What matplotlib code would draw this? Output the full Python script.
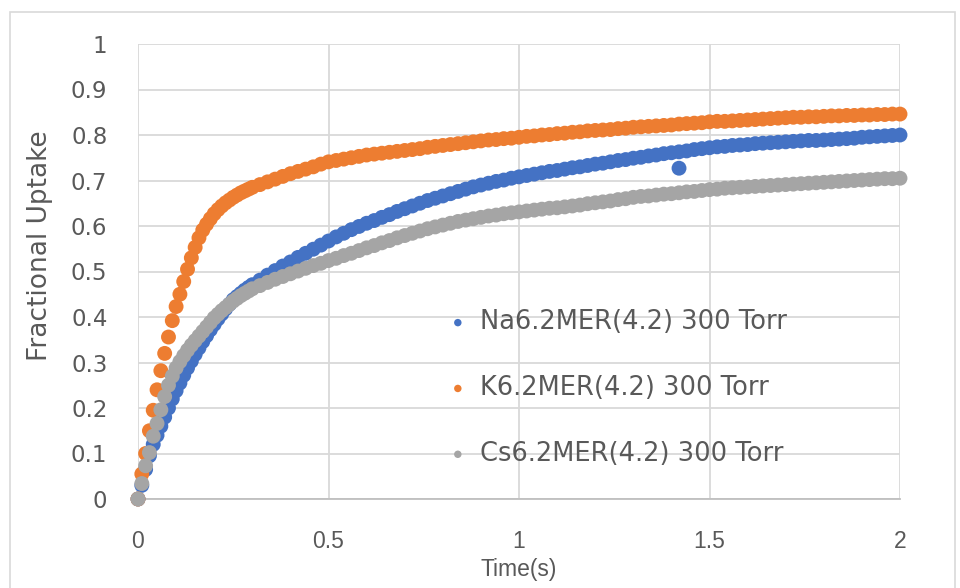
import matplotlib
matplotlib.use("Agg")
import matplotlib.pyplot as plt
from matplotlib.patches import Rectangle

# Sample times (s), shared by the three series
time_s = [0.00, 0.01, 0.02, 0.03, 0.04, 0.05, 0.06, 0.07, 0.08, 0.09,
          0.10, 0.11, 0.12, 0.13, 0.14, 0.15, 0.16, 0.17, 0.18, 0.19,
          0.20, 0.21, 0.22, 0.23, 0.24, 0.25, 0.26, 0.27, 0.28, 0.29, 0.30,
          0.32, 0.34, 0.36, 0.38, 0.40, 0.42, 0.44, 0.46, 0.48, 0.50,
          0.52, 0.54, 0.56, 0.58, 0.60, 0.62, 0.64, 0.66, 0.68, 0.70,
          0.72, 0.74, 0.76, 0.78, 0.80, 0.82, 0.84, 0.86, 0.88, 0.90,
          0.92, 0.94, 0.96, 0.98, 1.00, 1.02, 1.04, 1.06, 1.08, 1.10,
          1.12, 1.14, 1.16, 1.18, 1.20, 1.22, 1.24, 1.26, 1.28, 1.30,
          1.32, 1.34, 1.36, 1.38, 1.40, 1.42, 1.44, 1.46, 1.48, 1.50,
          1.52, 1.54, 1.56, 1.58, 1.60, 1.62, 1.64, 1.66, 1.68, 1.70,
          1.72, 1.74, 1.76, 1.78, 1.80, 1.82, 1.84, 1.86, 1.88, 1.90,
          1.92, 1.94, 1.96, 1.98, 2.00]

na_uptake = [0.000, 0.030, 0.065, 0.095, 0.120, 0.140, 0.160, 0.180, 0.200, 0.220,
             0.238, 0.255, 0.272, 0.288, 0.303, 0.318, 0.332, 0.346, 0.359, 0.372,
             0.384, 0.396, 0.407, 0.418, 0.428, 0.438, 0.445, 0.452, 0.459, 0.465, 0.471,
             0.481, 0.492, 0.502, 0.512, 0.521, 0.531, 0.540, 0.549, 0.558, 0.567,
             0.576, 0.584, 0.592, 0.599, 0.606, 0.612, 0.619, 0.625, 0.632, 0.638,
             0.644, 0.650, 0.656, 0.661, 0.666, 0.671, 0.676, 0.681, 0.686, 0.690,
             0.694, 0.698, 0.701, 0.705, 0.708, 0.711, 0.714, 0.717, 0.720, 0.722,
             0.725, 0.728, 0.730, 0.733, 0.736, 0.738, 0.741, 0.744, 0.746, 0.749,
             0.751, 0.754, 0.756, 0.759, 0.761, 0.763, 0.765, 0.768, 0.770, 0.772,
             0.774, 0.775, 0.777, 0.778, 0.779, 0.781, 0.782, 0.783, 0.784, 0.785,
             0.786, 0.787, 0.788, 0.788, 0.789, 0.790, 0.791, 0.792, 0.793, 0.795,
             0.796, 0.797, 0.798, 0.799, 0.800]
# single stray Na point
na_stray_time = [1.42]
na_stray_uptake = [0.727]

k_uptake = [0.000, 0.055, 0.100, 0.150, 0.195, 0.240, 0.282, 0.320, 0.356, 0.392,
            0.423, 0.450, 0.478, 0.505, 0.530, 0.553, 0.574, 0.591, 0.604, 0.616,
            0.627, 0.636, 0.644, 0.651, 0.657, 0.663, 0.668, 0.673, 0.677, 0.681, 0.685,
            0.691, 0.697, 0.703, 0.709, 0.715, 0.720, 0.725, 0.730, 0.736, 0.741,
            0.744, 0.747, 0.750, 0.753, 0.756, 0.758, 0.760, 0.762, 0.764, 0.766,
            0.768, 0.770, 0.773, 0.775, 0.777, 0.779, 0.781, 0.783, 0.785, 0.787,
            0.789, 0.790, 0.792, 0.793, 0.795, 0.797, 0.798, 0.800, 0.801, 0.803,
            0.804, 0.806, 0.807, 0.809, 0.810, 0.811, 0.812, 0.814, 0.815, 0.817,
            0.818, 0.819, 0.820, 0.821, 0.822, 0.824, 0.825, 0.826, 0.827, 0.829,
            0.830, 0.830, 0.831, 0.832, 0.833, 0.834, 0.835, 0.836, 0.837, 0.838,
            0.839, 0.839, 0.840, 0.840, 0.841, 0.842, 0.842, 0.843, 0.843, 0.844,
            0.844, 0.845, 0.845, 0.846, 0.846]

cs_uptake = [0.000, 0.034, 0.073, 0.102, 0.138, 0.166, 0.196, 0.225, 0.250, 0.270,
             0.288, 0.302, 0.315, 0.327, 0.338, 0.348, 0.358, 0.368, 0.378, 0.388,
             0.398, 0.406, 0.414, 0.421, 0.428, 0.435, 0.441, 0.447, 0.452, 0.457, 0.462,
             0.469, 0.476, 0.483, 0.489, 0.495, 0.501, 0.507, 0.513, 0.518, 0.524,
             0.529, 0.535, 0.540, 0.546, 0.552, 0.557, 0.563, 0.568, 0.574, 0.579,
             0.584, 0.589, 0.594, 0.598, 0.602, 0.606, 0.610, 0.613, 0.616, 0.619,
             0.622, 0.624, 0.627, 0.629, 0.631, 0.633, 0.635, 0.637, 0.639, 0.640,
             0.642, 0.644, 0.646, 0.649, 0.651, 0.653, 0.655, 0.658, 0.660, 0.663,
             0.665, 0.666, 0.668, 0.670, 0.671, 0.673, 0.675, 0.676, 0.678, 0.680,
             0.681, 0.683, 0.684, 0.685, 0.686, 0.687, 0.688, 0.689, 0.690, 0.691,
             0.692, 0.693, 0.694, 0.695, 0.696, 0.697, 0.698, 0.699, 0.700, 0.701,
             0.702, 0.703, 0.704, 0.704, 0.705]

labels = ["Na6.2MER(4.2) 300 Torr", "K6.2MER(4.2) 300 Torr", "Cs6.2MER(4.2) 300 Torr"]
colors = ["#4472C4", "#ED7D31", "#A5A5A5"]
x_ticks = [0, 0.5, 1, 1.5, 2]
x_tick_labels = ["0", "0.5", "1", "1.5", "2"]
y_ticks = [0, 0.1, 0.2, 0.3, 0.4, 0.5, 0.6, 0.7, 0.8, 0.9, 1]
y_tick_labels = ["0", "0.1", "0.2", "0.3", "0.4", "0.5", "0.6", "0.7", "0.8", "0.9", "1"]

text_color = "#595959"
grid_color = "#D9D9D9"

fig = plt.figure(figsize=(9.6, 5.88), dpi=100)
fig.patches.append(Rectangle((10 / 960, -0.05), 945 / 960, 1.05 - 12 / 588,
                             transform=fig.transFigure, fill=False,
                             edgecolor=grid_color, linewidth=1.2))
ax = fig.add_axes([138 / 960, 1 - 499 / 588, 762 / 960, 455 / 588])

marker_size = 115
ax.scatter(time_s, na_uptake, s=marker_size, color=colors[0], edgecolors="none",
           label=labels[0], clip_on=False, zorder=3)
ax.scatter(na_stray_time, na_stray_uptake, s=marker_size, color=colors[0],
           edgecolors="none", clip_on=False, zorder=3)
ax.scatter(time_s, k_uptake, s=marker_size, color=colors[1], edgecolors="none",
           label=labels[1], clip_on=False, zorder=3)
ax.scatter(time_s, cs_uptake, s=marker_size, color=colors[2], edgecolors="none",
           label=labels[2], clip_on=False, zorder=3)

ax.set_xlim(0, 2)
ax.set_ylim(0, 1)
ax.set_xticks(x_ticks)
ax.set_xticklabels(x_tick_labels, family="Liberation Sans", fontsize=16.5,
                   color=text_color)
ax.set_yticks(y_ticks)
ax.set_yticklabels(y_tick_labels, family="DejaVu Sans", fontsize=16.5, color=text_color)
ax.tick_params(axis="both", length=0)
ax.tick_params(axis="x", pad=22)
ax.tick_params(axis="y", pad=22)
ax.grid(True, color=grid_color, linewidth=1.3, zorder=0)
ax.set_axisbelow(True)
for side in ["top", "right", "left"]:
    ax.spines[side].set_visible(False)
ax.spines["bottom"].set_color("#BFBFBF")
ax.spines["bottom"].set_linewidth(1.3)

ax.set_xlabel("Time(s)", family="Liberation Sans", fontsize=16.5,
              color=text_color, labelpad=4)
ax.set_ylabel("Fractional Uptake", family="DejaVu Sans", fontsize=19,
              color=text_color)
ax.yaxis.set_label_coords(-0.112, 0.556)

leg = ax.legend(loc="upper left", bbox_to_anchor=(0.386, 0.445), frameon=False,
                fontsize=18.5, markerscale=0.5, handlelength=1.0,
                handletextpad=0.35, labelspacing=1.55, borderpad=0)
for txt in leg.get_texts():
    txt.set_color(text_color)

fig.savefig("out.png", dpi=100)
